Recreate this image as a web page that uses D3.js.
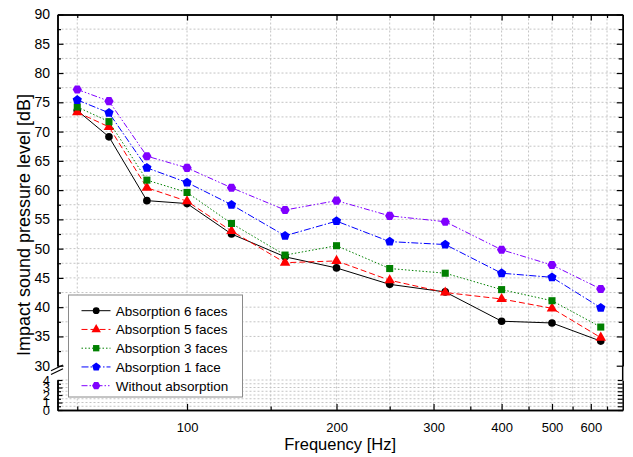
<!DOCTYPE html>
<html>
<head>
<meta charset="utf-8">
<script src="https://cdn.jsdelivr.net/npm/d3@7"></script>
<style>
    body { margin: 0; background: #fff; }
    svg { display: block; font-family: Arial, "Liberation Sans", sans-serif; }
    .grid line { stroke: #c4c4c4; stroke-width: 1; stroke-dasharray: 2,2; }
    .axis path, .axis line { stroke: #000; }
    .axis text { fill: #000; }
</style>
</head>
<body>
<svg id="chart" width="633" height="457"></svg>
<script>
// third-octave band centres [Hz]
const frequencies = [50, 63, 80, 100, 125, 160, 200, 250, 315, 400, 500, 630];

const seriesNames = [
    'Absorption 6 faces',
    'Absorption 5 faces',
    'Absorption 3 faces',
    'Absorption 1 face',
    'Without absorption',
];

// impact sound pressure level [dB]
const absorption6 = [73.6, 69.1, 58.2, 57.7, 52.5, 48.6, 46.7, 43.9, 42.6, 37.6, 37.3, 34.2];
const absorption5 = [73.3, 70.8, 60.4, 58.1, 53.0, 47.6, 47.9, 44.6, 42.5, 41.4, 39.8, 34.8];
const absorption3 = [74.2, 71.7, 61.7, 59.6, 54.3, 48.9, 50.5, 46.6, 45.8, 43.0, 41.1, 36.6];
const absorption1 = [75.4, 73.2, 63.8, 61.3, 57.5, 52.2, 54.7, 51.2, 50.7, 45.8, 45.1, 39.9];
const noAbsorption = [77.2, 75.2, 65.8, 63.8, 60.4, 56.6, 58.2, 55.6, 54.6, 49.8, 47.2, 43.1];

const xMajorTicks = [100, 200, 300, 400, 500, 600];
const xMinorTicks = [50, 150, 250, 350, 450, 550, 650];
const yUpperTicks = [30, 35, 40, 45, 50, 55, 60, 65, 70, 75, 80, 85, 90];
const yLowerTicks = [0, 1, 2, 3, 4];

// the frequency axis is an offset-reciprocal axis
const X_OFFSET = 270;

const frame = { left: 57.5, right: 622.7, top: 14.5, bottom: 410 };
const upperBottom = 365.7;
const lowerTop = 380;

const svg = d3.select('#chart');

const x = d3.scalePow().exponent(-1)
    .domain([42.4 + X_OFFSET, 704 + X_OFFSET])
    .range([frame.left, frame.right]);
const fx = (f) => x(f + X_OFFSET);

const yUpper = d3.scaleLinear().domain([30, 90]).range([upperBottom, frame.top]);
const yLower = d3.scaleLinear().domain([0, 4]).range([frame.bottom, lowerTop]);

// grid
const grid = svg.append('g').attr('class', 'grid');
grid.selectAll('.gx')
    .data(xMajorTicks.concat(xMinorTicks))
    .enter()
    .append('line')
    .attr('x1', (d) => fx(d)).attr('x2', (d) => fx(d))
    .attr('y1', frame.top).attr('y2', frame.bottom);
grid.selectAll('.gy')
    .data(d3.range(32.5, 90, 2.5))
    .enter()
    .append('line')
    .attr('x1', frame.left).attr('x2', frame.right)
    .attr('y1', (d) => yUpper(d)).attr('y2', (d) => yUpper(d));
grid.selectAll('.gyl')
    .data(d3.range(0.5, 4.01, 0.5))
    .enter()
    .append('line')
    .attr('x1', frame.left).attr('x2', frame.right)
    .attr('y1', (d) => yLower(d)).attr('y2', (d) => yLower(d));

// axes
const shifted = (arr) => arr.map((f) => f + X_OFFSET);

function addAxis(axis, transform, labelSize) {
    const g = svg.append('g')
        .attr('class', 'axis')
        .attr('transform', transform)
        .call(axis);
    g.select('.domain').attr('stroke-width', 1.5);
    g.selectAll('.tick line').attr('stroke-width', 1.2);
    g.selectAll('text').attr('font-size', labelSize).attr('font-family', null);
    return g;
}

addAxis(d3.axisBottom(x).tickValues(shifted(xMajorTicks))
    .tickFormat((d) => d - X_OFFSET).tickSize(-6).tickSizeOuter(0).tickPadding(13),
    'translate(0,' + frame.bottom + ')', 13);
addAxis(d3.axisBottom(x).tickValues(shifted(xMinorTicks))
    .tickFormat('').tickSize(-3.5).tickSizeOuter(0),
    'translate(0,' + frame.bottom + ')', 13);
addAxis(d3.axisTop(x).tickValues(shifted(xMajorTicks))
    .tickFormat('').tickSize(-6).tickSizeOuter(0),
    'translate(0,' + frame.top + ')', 13);
addAxis(d3.axisTop(x).tickValues(shifted(xMinorTicks))
    .tickFormat('').tickSize(-3.5).tickSizeOuter(0),
    'translate(0,' + frame.top + ')', 13);

addAxis(d3.axisLeft(yUpper).tickValues(yUpperTicks)
    .tickFormat(d3.format('d')).tickSize(-6).tickSizeOuter(0).tickPadding(7.5),
    'translate(' + frame.left + ',0)', 14);
addAxis(d3.axisLeft(yUpper).tickValues(d3.range(32.5, 90, 5))
    .tickFormat('').tickSize(-3.5).tickSizeOuter(0),
    'translate(' + frame.left + ',0)', 14);
addAxis(d3.axisLeft(yLower).tickValues(yLowerTicks)
    .tickFormat(d3.format('d')).tickSize(-5).tickSizeOuter(0).tickPadding(7.5),
    'translate(' + frame.left + ',0)', 13);
addAxis(d3.axisLeft(yLower).tickValues(d3.range(0.5, 4, 1))
    .tickFormat('').tickSize(-3.5).tickSizeOuter(0),
    'translate(' + frame.left + ',0)', 13);

addAxis(d3.axisRight(yUpper).tickValues(yUpperTicks)
    .tickFormat('').tickSize(-6).tickSizeOuter(0),
    'translate(' + frame.right + ',0)', 14);
addAxis(d3.axisRight(yUpper).tickValues(d3.range(32.5, 90, 5))
    .tickFormat('').tickSize(-4).tickSizeOuter(0),
    'translate(' + frame.right + ',0)', 14);
addAxis(d3.axisRight(yLower).tickValues(d3.range(0, 4.01, 0.5))
    .tickFormat('').tickSize(-5).tickSizeOuter(0),
    'translate(' + frame.right + ',0)', 14);

// close the right frame across the break
svg.append('line')
    .attr('x1', frame.right).attr('x2', frame.right)
    .attr('y1', upperBottom).attr('y2', lowerTop)
    .attr('stroke', '#000').attr('stroke-width', 1.5);

// break marks
[0, 3.8].forEach((dy) => {
    svg.append('line')
        .attr('x1', frame.left - 6.5).attr('y1', upperBottom + 5 + dy)
        .attr('x2', frame.left + 5.5).attr('y2', upperBottom - 0.7 + dy)
        .attr('stroke', '#000').attr('stroke-width', 1.2);
});

// custom marker shapes
function polygonSymbol(sides, rotation) {
    return {
        draw: function draw(context, size) {
            const r = Math.sqrt(size / (sides * 0.5 * Math.sin(2 * Math.PI / sides)));
            for (let i = 0; i < sides; i++) {
                const a = rotation + i * 2 * Math.PI / sides;
                const px = r * Math.sin(a);
                const py = -r * Math.cos(a);
                if (i === 0) { context.moveTo(px, py); } else { context.lineTo(px, py); }
            }
            context.closePath();
        },
    };
}

const series = [
    { name: seriesNames[0], values: absorption6, color: '#000000', dash: null,
        symbol: d3.symbolCircle, size: 46 },
    { name: seriesNames[1], values: absorption5, color: '#ff0000', dash: '6,3',
        symbol: d3.symbolTriangle, size: 48 },
    { name: seriesNames[2], values: absorption3, color: '#008000', dash: '1.5,2',
        symbol: d3.symbolSquare, size: 50 },
    { name: seriesNames[3], values: absorption1, color: '#0000ff', dash: '7,2,1.5,2',
        symbol: polygonSymbol(5, 0), size: 56 },
    { name: seriesNames[4], values: noAbsorption, color: '#8000ff', dash: '6,2,1.5,2,1.5,2',
        symbol: polygonSymbol(6, Math.PI / 6), size: 56 },
];

const line = d3.line()
    .x((d) => fx(d.f))
    .y((d) => yUpper(d.v));

series.forEach((s) => {
    const points = frequencies.map((f, i) => ({ f: f, v: s.values[i] }));
    const g = svg.append('g');
    g.append('path')
        .datum(points)
        .attr('d', line)
        .attr('fill', 'none')
        .attr('stroke', s.color)
        .attr('stroke-width', 1)
        .attr('stroke-dasharray', s.dash);
    g.selectAll('.marker')
        .data(points)
        .enter()
        .append('path')
        .attr('d', d3.symbol().type(s.symbol).size(s.size))
        .attr('transform', (d) => 'translate(' + fx(d.f) + ',' + yUpper(d.v) + ')')
        .attr('fill', s.color);
});

// legend
const legend = svg.append('g').attr('transform', 'translate(68.5,295)');
legend.append('rect')
    .attr('width', 174).attr('height', 102)
    .attr('fill', '#fff').attr('stroke', '#8a8a8a').attr('stroke-width', 1);

series.forEach((s, i) => {
    const row = legend.append('g').attr('transform', 'translate(0,' + (15.7 + i * 18.75) + ')');
    row.append('line')
        .attr('x1', 13).attr('x2', 42)
        .attr('stroke', s.color).attr('stroke-width', 1)
        .attr('stroke-dasharray', s.dash);
    row.append('path')
        .attr('d', d3.symbol().type(s.symbol).size(s.size * 0.8))
        .attr('transform', 'translate(27.7,0)')
        .attr('fill', s.color);
    row.append('text')
        .attr('x', 47.2).attr('dy', '0.36em')
        .attr('font-size', 13.5)
        .text(s.name);
});

// titles
svg.append('text')
    .attr('x', (frame.left + frame.right) / 2).attr('y', 450)
    .attr('text-anchor', 'middle')
    .attr('font-size', 16.5)
    .text('Frequency [Hz]');

svg.append('text')
    .attr('transform', 'translate(30,225) rotate(-90)')
    .attr('text-anchor', 'middle')
    .attr('font-size', 18)
    .text('Impact sound pressure level [dB]');
</script>
</body>
</html>
